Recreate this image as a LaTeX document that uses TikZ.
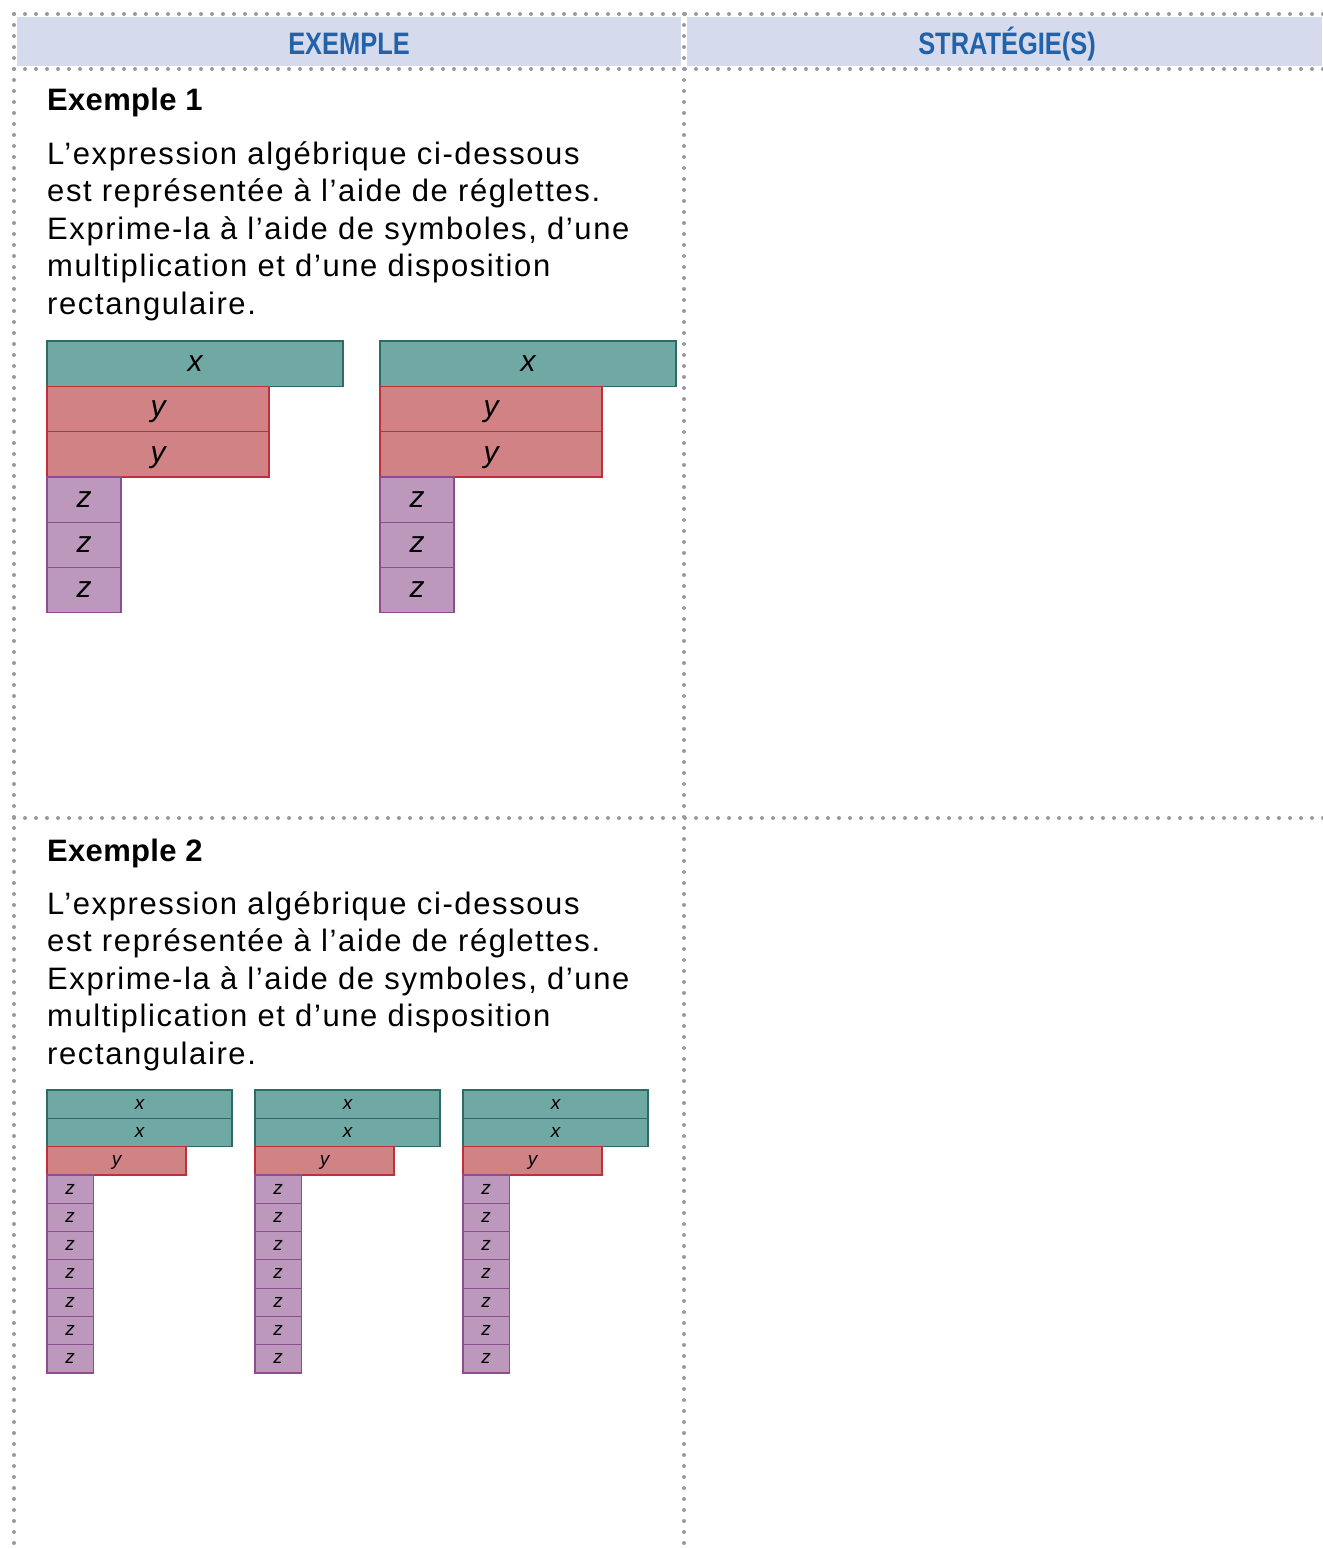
\documentclass[tikz,border=0pt]{standalone}
\usepackage{fontspec}
\setmainfont{Liberation Sans}
\newfontfamily\headfont[FakeStretch=0.82]{Liberation Sans}
\newfontfamily\bodyfont[LetterSpace=5.2]{Liberation Sans}
\newfontfamily\boldfont[LetterSpace=1]{Liberation Sans}
\usetikzlibrary{positioning}
\definecolor{bandblue}{HTML}{D5DBEC}
\definecolor{headblue}{HTML}{2262A8}
\definecolor{dotgrey}{HTML}{9A9A9E}
\definecolor{tealfill}{HTML}{70A8A4}
\definecolor{tealline}{HTML}{2E6B66}
\definecolor{rosefill}{HTML}{D08284}
\definecolor{roseline}{HTML}{C0303A}
\definecolor{mauvefill}{HTML}{BC98BC}
\definecolor{mauveline}{HTML}{8E4E8E}

\begin{document}
\begin{tikzpicture}[
    x=1pt, y=-1pt,
    dotline/.style={draw=dotgrey, line width=4pt, line cap=round,
      dash pattern=on 0pt off 11pt},
    band/.style={fill=bandblue, draw=none},
    headtext/.style={font=\headfont\bfseries\fontsize{31}{31}\selectfont,
      text=headblue, anchor=base, inner sep=0},
    exhead/.style={font=\boldfont\bfseries\fontsize{31}{36}\selectfont,
      anchor=base west, inner sep=0},
    para/.style={font=\bodyfont\fontsize{31}{37.5}\selectfont, align=left,
      anchor=north west, inner sep=0},
    rod/.style={rectangle, inner sep=0, outer sep=0, line width=1.2pt,
      text depth=0pt},
    bigrod/.style={rod, minimum height=45.3pt, text height=15.6pt,
      font=\itshape\fontsize{30}{30}\selectfont},
    smallrod/.style={rod, minimum height=28.3pt, text height=9.9pt,
      font=\itshape\fontsize{19}{19}\selectfont},
    xrod/.style={fill=tealfill, draw=tealline},
    yrod/.style={fill=rosefill, draw=roseline},
    zrod/.style={fill=mauvefill, draw=mauveline},
  ]
  \useasboundingbox (0,0) rectangle (1322,1549);

  % header bands
  \fill[band] (17,17) rectangle (681,66);
  \fill[band] (687,17) rectangle (1322,66);
  \node[headtext] (hexemple) at (349,55) {EXEMPLE};
  \node[headtext] (hstrat) at (1007,55) {STRATÉGIE(S)};

  % dotted grid
  \draw[dotline] (14,14) -- (1330,14);
  \draw[dotline] (14,69) -- (1330,69);
  \draw[dotline] (14,818) -- (1330,818);
  \draw[dotline] (14,14) -- (14,1545);
  \draw[dotline] (684,14) -- (684,1545);

  % example 1
  \node[exhead] (ex1) at (47,111) {Exemple 1};
  \node[para] (txt1) at (47,141) {L’expression algébrique ci-dessous\\
    est représentée à l’aide de réglettes.\\
    Exprime-la à l’aide de symboles, d’une\\
    multiplication et d’une disposition\\
    rectangulaire.};

  \foreach \g/\gx in {a/47, b/380} {
    \node[bigrod, xrod, minimum width=296pt, anchor=north west]
      (\g x1) at (\gx,341) {x};
    \node[bigrod, yrod, minimum width=222pt,
      below=0pt of \g x1.south west, anchor=north west] (\g y1) {y};
    \node[bigrod, yrod, minimum width=222pt,
      below=0pt of \g y1.south west, anchor=north west] (\g y2) {y};
    \node[bigrod, zrod, minimum width=74pt,
      below=0pt of \g y2.south west, anchor=north west] (\g z1) {z};
    \foreach \i [remember=\i as \prev (initially 1)] in {2,3}
      \node[bigrod, zrod, minimum width=74pt,
        below=0pt of \g z\prev.south west, anchor=north west] (\g z\i) {z};
  }

  % example 2
  \node[exhead] (ex2) at (47,861) {Exemple 2};
  \node[para] (txt2) at (47,891) {L’expression algébrique ci-dessous\\
    est représentée à l’aide de réglettes.\\
    Exprime-la à l’aide de symboles, d’une\\
    multiplication et d’une disposition\\
    rectangulaire.};

  \foreach \g/\gx in {c/47, d/255, e/463} {
    \node[smallrod, xrod, minimum width=185pt, anchor=north west]
      (\g x1) at (\gx,1090) {x};
    \node[smallrod, xrod, minimum width=185pt,
      below=0pt of \g x1.south west, anchor=north west] (\g x2) {x};
    \node[smallrod, yrod, minimum width=139pt,
      below=0pt of \g x2.south west, anchor=north west] (\g y1) {y};
    \node[smallrod, zrod, minimum width=46.3pt,
      below=0pt of \g y1.south west, anchor=north west] (\g z1) {z};
    \foreach \i [remember=\i as \prev (initially 1)] in {2,...,7}
      \node[smallrod, zrod, minimum width=46.3pt,
        below=0pt of \g z\prev.south west, anchor=north west] (\g z\i) {z};
  }
\end{tikzpicture}
\end{document}
